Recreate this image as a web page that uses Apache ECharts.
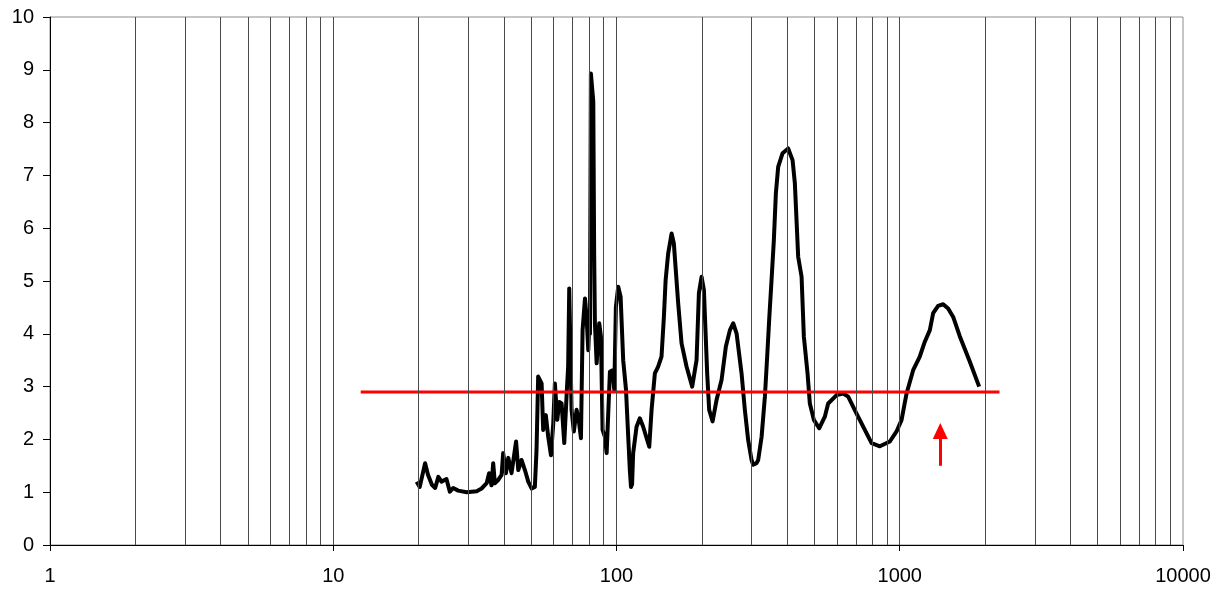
<!DOCTYPE html>
<html>
<head>
<meta charset="utf-8">
<script src="https://cdn.jsdelivr.net/npm/echarts@6/dist/echarts.min.js"></script>
<style>
html,body{margin:0;padding:0;background:#fff;}
#chart{width:1226px;height:590px;}
</style>
</head>
<body>
<div id="chart"></div>
<script>
// Frequency (x, log scale) of the measured curve
const curveX = [19.7,20.2,21.1,21.6,22.3,22.9,23.5,24.1,25.1,25.8,26.5,27.6,29.6,32.1,33.4,34.8,35.5,36.2,36.7,37.2,38.2,39.3,39.8,40.7,41.5,42.6,44.2,45.0,46.2,47.5,48.8,50.2,51.5,52.2,52.9,54.4,55.1,56.3,57.4,58.7,59.8,60.6,61.8,62.8,64.0,65.4,66.7,67.5,68.1,69.4,70.7,72.3,73.7,74.9,75.9,77.4,78.4,79.5,80.1,80.6,81.2,82.2,82.8,83.4,83.9,85.1,86.9,88.1,89.3,91.0,92.3,93.5,94.8,96.9,98.2,99.5,101.4,103.4,105.6,108.0,110.0,111.5,112.5,113.5,114.5,117.7,120.9,124.2,130.5,133.0,136.6,140.3,144.2,147.0,149.1,152.2,156.5,159.4,165.1,169.7,176.7,185.0,191.7,195.4,199.7,203.5,209.0,212.4,218.4,225.6,235.0,243.3,251.4,258.2,265.4,276.4,283.9,291.6,299.8,303.7,312.2,316.4,325.3,334.1,340.4,345.9,352.7,359.4,365.3,372.2,385.8,403.7,418.4,426.3,437.9,450.2,458.6,472.6,481.5,497.5,519.4,543.9,558.8,598.4,631.3,657.6,703.9,753.0,795.3,850.8,922.8,974.3,1015,1057,1115,1177,1226,1277,1312,1366,1423,1482,1544,1630,1768,1907];
const curveY = [1.2,1.1,1.55,1.33,1.14,1.08,1.29,1.2,1.25,1.01,1.08,1.03,1.0,1.02,1.07,1.17,1.36,1.13,1.55,1.17,1.23,1.33,1.74,1.36,1.65,1.36,1.96,1.42,1.61,1.42,1.2,1.07,1.1,1.8,3.19,3.06,2.18,2.46,2.05,1.7,2.3,3.06,2.37,2.71,2.68,1.93,2.87,3.38,4.86,2.56,2.15,2.56,2.34,2.02,4.07,4.67,4.32,3.69,4.13,4.0,8.93,8.6,8.4,5.5,4.2,3.44,4.2,3.95,2.18,2.05,1.74,2.49,3.28,3.31,2.94,4.51,4.89,4.7,3.5,2.95,2.05,1.4,1.1,1.15,1.74,2.24,2.4,2.24,1.86,2.56,3.25,3.38,3.57,4.32,5.02,5.52,5.9,5.71,4.58,3.82,3.38,3.0,3.5,4.77,5.08,4.83,3.25,2.56,2.34,2.75,3.13,3.76,4.07,4.2,4.01,3.25,2.56,1.99,1.61,1.52,1.55,1.61,2.05,2.81,3.57,4.26,5.02,5.78,6.66,7.16,7.42,7.51,7.29,6.85,5.46,5.08,3.95,3.25,2.68,2.37,2.21,2.43,2.68,2.84,2.87,2.81,2.49,2.18,1.93,1.87,1.96,2.15,2.37,2.87,3.31,3.57,3.85,4.07,4.39,4.53,4.56,4.48,4.32,3.95,3.47,3.0];
// Red threshold line
const limitX = [12.5, 2250];
const limitY = [2.9, 2.9];
// Red arrow marker
const arrowX = 1390;
const arrowFromY = 1.5;
const arrowToY = 2.16;
// Vertical grid line positions
const gridVals = [2,3,4,5,6,7,8,9,10,20,30,40,50,60,70,80,90,100,200,300,400,500,600,700,800,900,1000,2000,3000,4000,5000,6000,7000,8000,9000];
// Axis ranges
const xMin = 1, xMax = 10000, yMin = 0, yMax = 10, yStep = 1;

const chart = echarts.init(document.getElementById('chart'), null, {renderer: 'canvas'});
const font = 'Liberation Sans';
chart.setOption({
  animation: false,
  backgroundColor: '#ffffff',
  grid: {left: 50, right: 43, top: 17, bottom: 45, show: true, borderColor: '#8c8c8c', borderWidth: 1, containLabel: false},
  xAxis: {
    type: 'log', logBase: 10, min: xMin, max: xMax, splitNumber: 4,
    axisLine: {show: true, onZero: false, lineStyle: {color: '#000', width: 1}},
    axisTick: {show: true, inside: false, length: 6, lineStyle: {color: '#000'}},
    splitLine: {show: false},
    minorTick: {show: false}, minorSplitLine: {show: false},
    axisLabel: {color: '#000', fontSize: 20, fontFamily: font, margin: 21,
      formatter: v => String(Math.round(v))}
  },
  yAxis: {
    type: 'value', min: yMin, max: yMax, interval: yStep,
    axisLine: {show: true, lineStyle: {color: '#000', width: 1}},
    axisTick: {show: true, inside: false, length: 7, lineStyle: {color: '#000'}},
    splitLine: {show: false},
    axisLabel: {color: '#000', fontSize: 20, fontFamily: font, margin: 16}
  },
  series: [
    {
      type: 'line', data: [], z: 1, silent: true,
      markLine: {
        silent: true, symbol: ['none', 'none'], animation: false,
        label: {show: false},
        lineStyle: {color: '#4a4a4a', width: 1, type: 'solid'},
        emphasis: {disabled: true},
        data: gridVals.map(v => ({xAxis: v}))
      }
    },
    {
      type: 'line', z: 3, silent: true, showSymbol: false, symbol: 'none',
      data: curveX.map((x, i) => [x, curveY[i]]),
      lineStyle: {color: '#000', width: 4, join: 'round'}
    },
    {
      type: 'line', z: 4, silent: true, showSymbol: false, symbol: 'none',
      data: limitX.map((x, i) => [x, limitY[i]]),
      lineStyle: {color: '#ff0000', width: 3}
    },
    {
      type: 'line', data: [], z: 5, silent: true,
      markLine: {
        silent: true, animation: false, symbol: ['none', 'triangle'], symbolSize: [15, 16],
        label: {show: false},
        emphasis: {disabled: true},
        lineStyle: {color: '#ff0000', width: 3, type: 'solid'},
        itemStyle: {color: '#ff0000'},
        data: [[{coord: [arrowX, arrowFromY]}, {coord: [arrowX, arrowToY]}]]
      }
    }
  ]
});
</script>
</body>
</html>
